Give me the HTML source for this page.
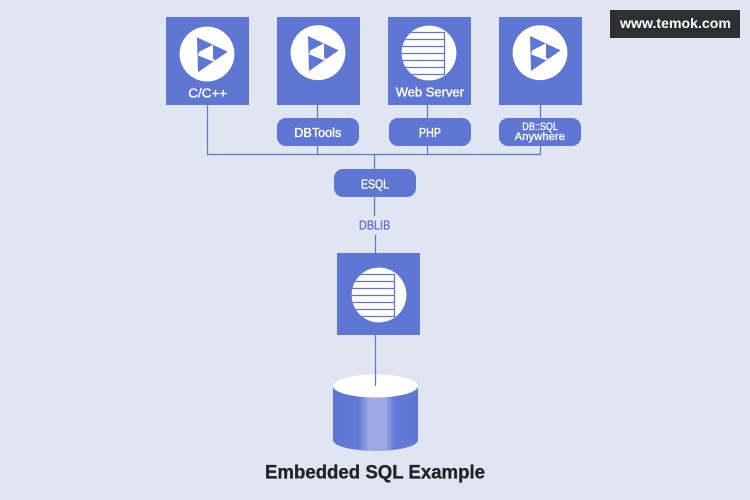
<!DOCTYPE html>
<html>
<head>
<meta charset="utf-8">
<style>
html,body{margin:0;padding:0;background:#e0e6f1;}
svg{display:block;}
text{font-family:"Liberation Sans",sans-serif;}
</style>
</head>
<body>
<svg xmlns="http://www.w3.org/2000/svg" width="750" height="500" viewBox="0 0 750 500">
<defs>
<linearGradient id="cyl" x1="0" x2="1" y1="0" y2="0">
<stop offset="0" stop-color="#5f76d4"/>
<stop offset="0.3" stop-color="#6379d5"/>
<stop offset="0.42" stop-color="#9ca8e2"/>
<stop offset="0.62" stop-color="#9ca8e2"/>
<stop offset="0.72" stop-color="#6379d5"/>
<stop offset="1" stop-color="#5f76d4"/>
</linearGradient>
<clipPath id="c3"><circle cx="429" cy="53" r="27.4"/></clipPath>
<clipPath id="c5"><circle cx="379" cy="295" r="27.4"/></clipPath>
</defs>
<rect width="750" height="500" fill="#e0e6f1"/>

<g stroke="#5f76d5" stroke-width="1.25" fill="none">
<path d="M207.5 105V154.5H540.5V105"/>
<path d="M317.5 105V118M317.5 146V154.5"/>
<path d="M427.5 105V118M427.5 146V154.5"/>
<path d="M374.5 154.5V169M374.5 197V216"/>
<path d="M375.5 235V253"/>
</g>

<g fill="#5f76d5">
<rect x="166" y="17" width="83" height="88"/>
<rect x="277" y="17" width="83" height="88"/>
<rect x="388" y="17" width="83" height="88"/>
<rect x="499" y="17" width="83" height="88"/>
<rect x="337" y="253" width="83" height="82"/>
<rect x="277" y="118" width="82" height="28" rx="9"/>
<rect x="389" y="118" width="82" height="28" rx="9"/>
<rect x="499" y="118" width="82" height="28" rx="9"/>
<rect x="334" y="169" width="82" height="28" rx="9"/>
</g>

<g>
<circle cx="207" cy="54" r="27.4" fill="#fff"/>
<path d="M197 37.3L227.7 51.7L198 72.3Z" fill="#5f76d5"/>
<path d="M199.3 51.7L213 44.7V58.7Z" fill="#fff"/>
<path d="M198 55.5L199.3 51.7L215 59.8L213 61.5Z" fill="#fff"/>
</g>
<g transform="translate(111,-1.3)">
<circle cx="207" cy="54" r="27.4" fill="#fff"/>
<path d="M197 37.3L227.7 51.7L198 72.3Z" fill="#5f76d5"/>
<path d="M199.3 51.7L213 44.7V58.7Z" fill="#fff"/>
<path d="M198 55.5L199.3 51.7L215 59.8L213 61.5Z" fill="#fff"/>
</g>
<g transform="translate(333,-1.3)">
<circle cx="207" cy="54" r="27.4" fill="#fff"/>
<path d="M197 37.3L227.7 51.7L198 72.3Z" fill="#5f76d5"/>
<path d="M199.3 51.7L213 44.7V58.7Z" fill="#fff"/>
<path d="M198 55.5L199.3 51.7L215 59.8L213 61.5Z" fill="#fff"/>
</g>

<circle cx="429" cy="53" r="27.4" fill="#fff"/>
<g clip-path="url(#c3)" stroke="#5f76d5" stroke-width="1.25" fill="none">
<path d="M400 32.5H444.5M400 39.5H444.5M400 46.5H444.5M400 53.5H444.5M400 60.5H444.5M400 67.5H444.5M400 74.5H444.5M444.5 32V75"/>
</g>

<circle cx="379" cy="295" r="27.4" fill="#fff"/>
<g clip-path="url(#c5)" stroke="#5f76d5" stroke-width="1.25" fill="none">
<path d="M350 274.5H394.5M350 281.5H394.5M350 288.5H394.5M350 295.5H394.5M350 302.5H394.5M350 309.5H394.5M350 316.5H394.5M394.5 274V317"/>
</g>

<path d="M333 386V440A42.5 11 0 0 0 418 440V386Z" fill="url(#cyl)"/>
<ellipse cx="375.5" cy="386" rx="42.5" ry="11.5" fill="#fff"/>
<path d="M375.5 335V386" stroke="#5f76d5" stroke-width="1.25" fill="none"/>

<g fill="#fff" font-size="13">
<text x="188.3" y="97.5" textLength="39" lengthAdjust="spacingAndGlyphs" stroke="#fff" stroke-width="0.35">C/C++</text>
<text x="395.7" y="96.7" textLength="68.3" lengthAdjust="spacingAndGlyphs" stroke="#fff" stroke-width="0.35">Web Server</text>
<text x="294.3" y="137" textLength="47" lengthAdjust="spacingAndGlyphs" stroke="#fff" stroke-width="0.35">DBTools</text>
<text x="419" y="137" textLength="22" lengthAdjust="spacingAndGlyphs" stroke="#fff" stroke-width="0.35">PHP</text>
<text x="361" y="188.3" textLength="28" lengthAdjust="spacingAndGlyphs" stroke="#fff" stroke-width="0.35">ESQL</text>
</g>
<g fill="#fff" font-size="11">
<text x="522.3" y="130" textLength="35.7" lengthAdjust="spacingAndGlyphs" stroke="#fff" stroke-width="0.3">DB::SQL</text>
<text x="514.7" y="140" textLength="50.3" lengthAdjust="spacingAndGlyphs" stroke="#fff" stroke-width="0.3">Anywhere</text>
</g>
<text x="359" y="229.7" font-size="12.5" textLength="31.3" lengthAdjust="spacingAndGlyphs" fill="#5f76d5" stroke="#5f76d5" stroke-width="0.35">DBLIB</text>

<text x="265" y="478.5" font-size="19" font-weight="700" textLength="220" lengthAdjust="spacingAndGlyphs" fill="#222327" stroke="#222327" stroke-width="0.35">Embedded SQL Example</text>

<rect x="610" y="10" width="130" height="28" fill="#2e2f33"/>
<text x="620" y="28" font-size="14" font-weight="700" textLength="111" lengthAdjust="spacingAndGlyphs" fill="#fff">www.temok.com</text>
</svg>
</body>
</html>
